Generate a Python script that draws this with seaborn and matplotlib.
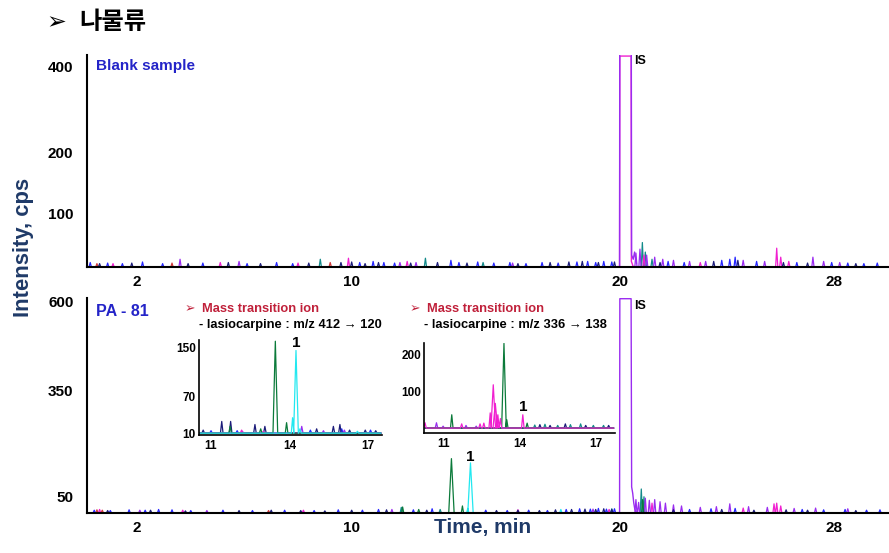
import numpy as np
import pandas as pd
import matplotlib
matplotlib.use("Agg")
import matplotlib.pyplot as plt
import seaborn as sns
from matplotlib.ticker import FixedLocator, MultipleLocator, NullFormatter

# ---------------- data ----------------
x_ticks = [2, 10, 20, 28]
top_yticks = [100, 200, 400]
bot_yticks = [50, 350, 600]
in1_yticks = [10, 70, 150]
in2_yticks = [100, 200]
in_xticks = [11, 14, 17]

# Blank sample panel (noise spikes: retention time, intensity)
top_base = 41.3
top_blue_t = [0.25, 0.9, 1.45, 2.2, 2.95, 4.45, 6.1, 7.2, 7.8, 10.3, 10.8, 11.2, 11.6,
              13.7, 14.0, 14.7, 15.3, 15.9, 16.5, 17.1, 17.7, 18.4, 18.8, 19.1, 19.4, 19.7,
              21.8, 22.4, 23.8, 24.1, 24.3, 25.1, 26.6, 27.9, 28.5, 29.1, 29.6]
top_blue_h = [45, 44.5, 44, 45.5, 44, 44.5, 44, 45, 44, 45, 46, 45, 44.5,
              47, 45, 45.5, 44.5, 45, 44, 45, 44.5, 45.5, 46, 45, 46, 45.5,
              46, 45, 47, 48, 50, 46, 45, 45, 44.5, 44, 44.5]
top_navy_t = [0.6, 1.8, 3.9, 5.4, 6.6, 8.4, 9.6, 10.0, 10.5, 11.0, 12.2, 13.2, 14.3,
              16.2, 17.4, 18.1, 18.6, 19.2, 19.8, 21.5, 23.5, 24.4, 26.1, 27.0, 28.8]
top_navy_h = [44, 44.5, 44, 45, 44, 44.5, 45, 45.5, 44, 45, 44.5, 45, 44.5,
              44, 45, 45.5, 46, 45, 45.5, 45, 46, 47, 45, 44.5, 44]
top_purple_t = [3.6, 5.8, 11.8, 12.4, 16.0, 20.6, 20.75, 21.0, 21.3, 21.6, 22.0, 22.6,
                23.2, 24.6, 25.4, 27.2, 27.6, 28.2]
top_purple_h = [48, 46, 45, 45, 44.5, 54, 58, 52, 50, 48, 47, 46, 46, 47, 46, 50, 46, 45]
top_mag_t = [1.1, 5.1, 8.0, 9.88, 12.07, 20.9, 23.0, 25.85, 26.0, 26.3]
top_mag_h = [44, 45, 44.5, 49, 46, 52, 45, 59, 50, 46]
top_teal_t = [8.83, 12.75, 14.9, 20.84, 20.95, 21.2]
top_teal_h = [48, 49, 45, 65, 55, 48]
top_red_t = [0.5, 3.3, 9.2]
top_red_h = [44, 44.5, 45]
top_is_mag_t = [19.9, 19.99, 20.0, 20.42, 20.43, 20.5]
top_is_mag_h = [41.3, 41.3, 429, 429, 46, 41.3]
top_is_pur_t = [19.9, 19.99, 20.0, 20.42, 20.44, 20.5, 20.55, 20.62]
top_is_pur_h = [41.3, 41.3, 900, 900, 52, 48, 55, 44]

# PA - 81 panel
bot_base = 3
bot_blue_t = [0.4, 1.0, 1.7, 2.3, 2.8, 3.3, 4.0, 5.2, 6.3, 7.5, 8.6, 9.5, 10.4, 11.0, 12.3,
              13.0, 15.0, 15.8, 16.6, 17.3, 18.0, 18.5, 18.9, 19.2, 19.5, 19.8, 22.6, 23.4,
              24.3, 26.8, 27.6, 28.4, 29.2, 29.7]
bot_blue_h = [10, 9, 11, 10, 12, 11, 9, 10, 9, 10, 9, 11, 10, 12, 11,
              14, 10, 9, 10, 9, 12, 14, 13, 15, 13, 14, 12, 14,
              15, 12, 11, 12, 10, 11]
bot_navy_t = [0.9, 2.5, 3.8, 5.8, 7.0, 8.1, 9.0, 10.0, 11.3, 12.8, 15.4, 16.2, 17.0,
              17.6, 18.2, 18.7, 19.1, 19.4, 19.7, 22.0, 23.8, 25.0, 26.2, 27.0, 28.8]
bot_navy_h = [9, 10, 8, 9, 10, 9, 8, 10, 11, 10, 9, 10, 9,
              11, 12, 13, 12, 14, 12, 11, 12, 10, 11, 10, 9]
bot_purple_t = [2.1, 4.6, 11.5, 19.0, 20.6, 20.7, 20.95, 21.1, 21.3, 21.5, 21.7, 22.0,
                22.3, 23.0, 23.6, 24.1, 24.8, 25.5, 26.5, 27.3, 28.5]
bot_purple_h = [10, 9, 12, 13, 40, 32, 44, 38, 40, 34, 30, 25, 22, 18, 20, 28, 20, 18, 15, 16, 14]
bot_mag_t = [0.6, 3.7, 8.2, 16.2, 19.6, 21.2, 24.6, 25.75, 25.85, 26.0]
bot_mag_h = [12, 10, 10, 11, 12, 30, 16, 28, 30, 22]
bot_green_t = [11.9, 12.5, 13.72, 14.13, 20.85]
bot_green_h = [19, 12, 156, 22, 40]
bot_cyan_t = [14.33, 14.43, 17.8]
bot_cyan_h = [15, 144, 12]
bot_teal_t = [11.85, 13.3, 19.7, 20.8, 20.9]
bot_teal_h = [18, 12, 14, 70, 48]
bot_red_t = [0.5, 0.7, 6.9]
bot_red_h = [11, 10, 9]
bot_is_t = [19.9, 19.99, 20.0, 20.42, 20.44, 20.48, 20.52, 20.56, 20.62]
bot_is_h = [3, 3, 609, 609, 76, 58, 30, 12, 3]

# Inset 1: m/z 412 -> 120
in1_base = 11
in1_green_t = [11.73, 12.9, 13.46, 13.89]
in1_green_h = [22, 18, 160, 28]
in1_cyan_t = [14.12, 14.25, 14.4, 16.6]
in1_cyan_h = [36, 145, 18, 14]
in1_navy_t = [10.7, 11.41, 11.75, 12.68, 13.06, 15.04, 15.68, 15.93, 16.3, 16.9, 17.3]
in1_navy_h = [16, 30, 30, 25, 22, 18, 22, 25, 16, 16, 15]
in1_purple_t = [12.2, 14.47, 15.3, 16.1]
in1_purple_h = [14, 22, 15, 16]
in1_mag_t = [12.17, 13.0]
in1_mag_h = [16, 14]
in1_blue_t = [11.0, 12.0, 14.8, 16.0, 17.1]
in1_blue_h = [15, 15, 16, 18, 16]

# Inset 2: m/z 336 -> 138
in2_base = 5
in2_mag_t = [10.29, 11.73, 12.45, 12.6, 12.85, 12.97, 13.05, 13.15, 13.25, 14.13]
in2_mag_h = [19, 16, 16, 18, 45, 119, 70, 40, 30, 40]
in2_green_t = [11.34, 13.39, 13.5, 14.3]
in2_green_h = [40, 228, 27, 18]
in2_purple_t = [10.74, 11.0, 11.9, 12.3]
in2_purple_h = [19, 10, 12, 10]
in2_teal_t = [14.6, 15.0, 15.5, 16.0, 16.4, 16.9, 17.3]
in2_teal_h = [13, 15, 12, 14, 16, 12, 12]
in2_navy_t = [14.8, 15.2, 15.8, 16.6, 17.5]
in2_navy_h = [14, 12, 16, 12, 12]

# ---------------- styling ----------------
W, H = 889, 553
C = {"blue": "#2626ff", "navy": "#1c1c7a", "purple": "#9a2cf0", "mag": "#f020d0",
     "green": "#0b7a3a", "cyan": "#22e8f0", "teal": "#138a8a", "red": "#d03a3a"}
NAVY_TXT = "#1f3a68"
BLUE_TXT = "#2424c8"
RED_TXT = "#c0203a"

sns.set_theme(style="white")
plt.rcParams["font.family"] = ["Liberation Sans", "DejaVu Sans"]
plt.rcParams["axes.linewidth"] = 1.5

fig = plt.figure(figsize=(W / 100, H / 100), dpi=100)


def box(l, t, r, b):
    return [l / W, 1 - b / H, (r - l) / W, (b - t) / H]


def build(base, ts, hs, lo, hi, thr, wn, wp):
    pts = sorted(zip(ts, hs, strict=True))
    xs, ys = [lo], [base]
    for t, h in pts:
        w = wp if h > thr else wn
        xs += [t - w, t, t + w]
        ys += [base, h, base]
    xs.append(hi)
    ys.append(base)
    return xs, ys


def draw(ax, base, traces, lo, hi, thr, wn, wp, lw=0.9):
    # traces drawn one by one, in the given order
    for name, (ts, hs) in traces:
        xs, ys = build(base, ts, hs, lo, hi, thr, wn, wp)
        df = pd.DataFrame({"time": xs, "intensity": ys})
        sns.lineplot(data=df, x="time", y="intensity", color=C[name], estimator=None,
                     sort=False, linewidth=lw, ax=ax)
    ax.set_xlabel("")
    ax.set_ylabel("")
    for s in ["top", "right"]:
        ax.spines[s].set_visible(False)
    for s in ["left", "bottom"]:
        ax.spines[s].set_color("black")
        ax.spines[s].set_zorder(5)


def draw_explicit(ax, name, xs, ys, lw=1.0):
    df = pd.DataFrame({"time": xs, "intensity": ys})
    sns.lineplot(data=df, x="time", y="intensity", color=C[name], estimator=None,
                 sort=False, linewidth=lw, ax=ax)
    ax.set_xlabel("")
    ax.set_ylabel("")


# ---------------- top panel ----------------
ax1 = fig.add_axes(box(87, 55, 888, 267))
draw(ax1, top_base, [("red", (top_red_t, top_red_h)), ("teal", (top_teal_t, top_teal_h)),
                     ("mag", (top_mag_t, top_mag_h)), ("purple", (top_purple_t, top_purple_h)),
                     ("navy", (top_navy_t, top_navy_h)), ("blue", (top_blue_t, top_blue_h))],
     0.1, 30.0, 1000, 0.04, 0.1)
draw_explicit(ax1, "mag", top_is_mag_t, top_is_mag_h)
draw_explicit(ax1, "purple", top_is_pur_t, top_is_pur_h)
ax1.set_yscale("function", functions=(lambda v: np.sqrt(np.clip(v, 0, None)), lambda v: np.square(v)))
ax1.set_xlim(0.13, 30.0)
ax1.set_ylim(41, 432)

# ---------------- bottom panel ----------------
ax2 = fig.add_axes(box(87, 298, 888, 513))
draw(ax2, bot_base, [("red", (bot_red_t, bot_red_h)), ("mag", (bot_mag_t, bot_mag_h)),
                     ("teal", (bot_teal_t, bot_teal_h)), ("purple", (bot_purple_t, bot_purple_h)),
                     ("navy", (bot_navy_t, bot_navy_h)), ("blue", (bot_blue_t, bot_blue_h)),
                     ("green", (bot_green_t, bot_green_h)), ("cyan", (bot_cyan_t, bot_cyan_h))],
     0.1, 30.0, 100, 0.04, 0.1)
draw_explicit(ax2, "purple", bot_is_t, bot_is_h)
ax2.set_xlim(0.13, 30.0)
ax2.set_ylim(2, 611)

for ax, yt in [(ax1, top_yticks), (ax2, bot_yticks)]:
    ax.set_xticks(x_ticks, [str(v) for v in x_ticks], fontsize=11, fontweight="bold")
    ax.set_yticks(yt, [str(v) for v in yt], fontsize=11, fontweight="bold")
    ax.xaxis.set_minor_locator(MultipleLocator(1))
    ax.tick_params(axis="x", which="both", direction="out", length=3, width=1, pad=3, colors="black")
    ax.tick_params(axis="y", which="both", direction="inout", length=3.5, width=0.8, pad=8, colors="black")
    ax.xaxis.set_minor_formatter(NullFormatter())
    ax.yaxis.set_minor_formatter(NullFormatter())
    ax.set_facecolor("white")

ax1.yaxis.set_minor_locator(FixedLocator(np.arange(6.6, 20.8, 0.3) ** 2))
ax2.yaxis.set_minor_locator(MultipleLocator(12.5))

# ---------------- insets ----------------
ax3 = fig.add_axes(box(199, 340, 382, 435))
draw(ax3, in1_base, [("blue", (in1_blue_t, in1_blue_h)), ("navy", (in1_navy_t, in1_navy_h)),
                     ("purple", (in1_purple_t, in1_purple_h)), ("mag", (in1_mag_t, in1_mag_h)),
                     ("green", (in1_green_t, in1_green_h)), ("cyan", (in1_cyan_t, in1_cyan_h))],
     10.55, 17.5, 60, 0.05, 0.09)
ax3.set_xlim(10.54, 17.54)
ax3.set_ylim(8, 162)
ax3.set_yticks(in1_yticks, [str(v) for v in in1_yticks], fontsize=8.5, fontweight="bold")
ax3.yaxis.set_minor_locator(MultipleLocator(5))

ax4 = fig.add_axes(box(424, 343, 615, 433))
draw(ax4, in2_base, [("purple", (in2_purple_t, in2_purple_h)), ("navy", (in2_navy_t, in2_navy_h)),
                     ("teal", (in2_teal_t, in2_teal_h)), ("green", (in2_green_t, in2_green_h)),
                     ("mag", (in2_mag_t, in2_mag_h))],
     10.26, 17.7, 60, 0.05, 0.09)
ax4.set_xlim(10.25, 17.75)
ax4.set_ylim(-8, 229)
ax4.set_yticks(in2_yticks, [str(v) for v in in2_yticks], fontsize=8.5, fontweight="bold")
ax4.yaxis.set_minor_locator(MultipleLocator(10))

for ax in (ax3, ax4):
    ax.set_facecolor("white")
    for s in ["left", "bottom"]:
        ax.spines[s].set_linewidth(1.2)
    ax.set_xticks(in_xticks, [str(v) for v in in_xticks], fontsize=8.5, fontweight="bold")
    ax.xaxis.set_minor_locator(MultipleLocator(0.5))
    ax.xaxis.set_minor_formatter(NullFormatter())
    ax.yaxis.set_minor_formatter(NullFormatter())
    ax.tick_params(axis="x", which="both", direction="out", length=2, width=0.8, pad=1.5, colors="black")
    ax.tick_params(axis="y", which="both", direction="inout", length=2.5, width=0.7, pad=1, colors="black")


# ---------------- texts ----------------
def ftext(x, y, s, **kw):
    fig.text(x / W, 1 - y / H, s, **kw)


ftext(46, 22, "➢", fontsize=17, color="black", ha="left", va="center", family=["DejaVu Sans"])
ftext(79, 22, "나물류", fontsize=17.5, fontweight="bold", color="black", ha="left", va="center",
      family=["Noto Sans CJK KR", "DejaVu Sans"])

ftext(96, 66, "Blank sample", fontsize=11, fontweight="bold", color=BLUE_TXT, ha="left", va="center")
ftext(96, 311, "PA - 81", fontsize=11.5, fontweight="bold", color=BLUE_TXT, ha="left", va="center")
ftext(634, 61, "IS", fontsize=9, fontweight="bold", color="black", ha="left", va="center")
ftext(634, 306, "IS", fontsize=9, fontweight="bold", color="black", ha="left", va="center")

ftext(470, 457, "1", fontsize=11, fontweight="bold", color="black", ha="center", va="center")
ftext(296, 343, "1", fontsize=11, fontweight="bold", color="black", ha="center", va="center")
ftext(523, 407, "1", fontsize=11, fontweight="bold", color="black", ha="center", va="center")

for (ax_x, lx, mz) in [(185, 199, "412 → 120"), (410, 424, "336 → 138")]:
    ftext(ax_x, 309, "➢", fontsize=9, color=RED_TXT, ha="left", va="center", family=["DejaVu Sans"])
    ftext(ax_x + 17, 309, "Mass transition ion", fontsize=9.3, fontweight="bold", color=RED_TXT,
          ha="left", va="center")
    ftext(lx, 325, "- lasiocarpine : m/z " + mz, fontsize=9.3, fontweight="bold", color="black",
          ha="left", va="center")

ftext(24, 247, "Intensity, cps", fontsize=15.8, fontweight="bold", color=NAVY_TXT, rotation=90,
      ha="center", va="center")
ftext(483, 528, "Time, min", fontsize=15, fontweight="bold", color=NAVY_TXT, ha="center", va="center")

fig.savefig("out.png", dpi=100)
